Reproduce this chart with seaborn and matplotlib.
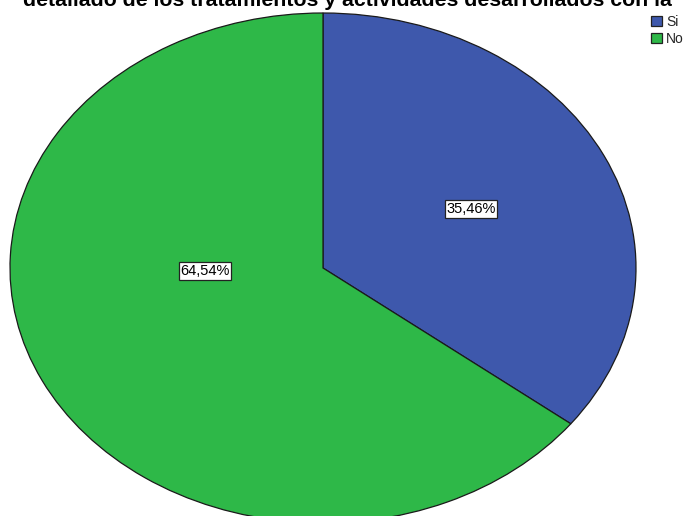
import matplotlib
matplotlib.use("Agg")
import matplotlib.pyplot as plt
import seaborn as sns

sns.set_theme(style="white")
plt.rcParams['font.family'] = ['Liberation Sans', 'DejaVu Sans']

categories = ["Si", "No"]
values = [35.46, 64.54]
labels = ["35,46%", "64,54%"]
colors = ["#3E58AC", "#2EB848"]
title = "detallado de los tratamientos y actividades desarrollados con la"

W, H = 686, 516
fig = plt.figure(figsize=(W / 100, H / 100), dpi=100)
ax = fig.add_axes([0, 0, 1, 1])

wedges, _ = ax.pie(values, colors=colors, startangle=90, counterclock=False,
                   radius=1.0,
                   wedgeprops=dict(edgecolor="#1a1a1a", linewidth=0.9))
ax.set_aspect('auto')

cx, cy, sx, sy = 323, 268, 313, 255
ax.set_xlim((0 - cx) / sx, (W - cx) / sx)
ax.set_ylim(-(H - cy) / sy, cy / sy)
ax.axis('off')

label_pos = [(0.473, 0.231), (-0.377, -0.012)]
for (x, y), t in zip(label_pos, labels):
    ax.text(x, y, t, ha='center', va='center', fontsize=10.5, color='black',
            bbox=dict(boxstyle='square,pad=0.12', facecolor='white',
                      edgecolor='#222222', linewidth=0.9))

fig.text(23 / W, 1 - 6 / H, title, ha='left', va='baseline',
         fontsize=15.3, fontweight='bold', color='black')

leg = fig.legend(wedges, categories, loc='upper left',
                 bbox_to_anchor=(651 / W, 1 - 15 / H), frameon=False,
                 fontsize=10, handlelength=0.8, handleheight=0.8,
                 handletextpad=0.3, labelspacing=0.2, borderpad=0,
                 borderaxespad=0)
for h in leg.legend_handles:
    h.set_edgecolor('#222222')
    h.set_linewidth(0.9)

fig.savefig("out.png", dpi=100)
